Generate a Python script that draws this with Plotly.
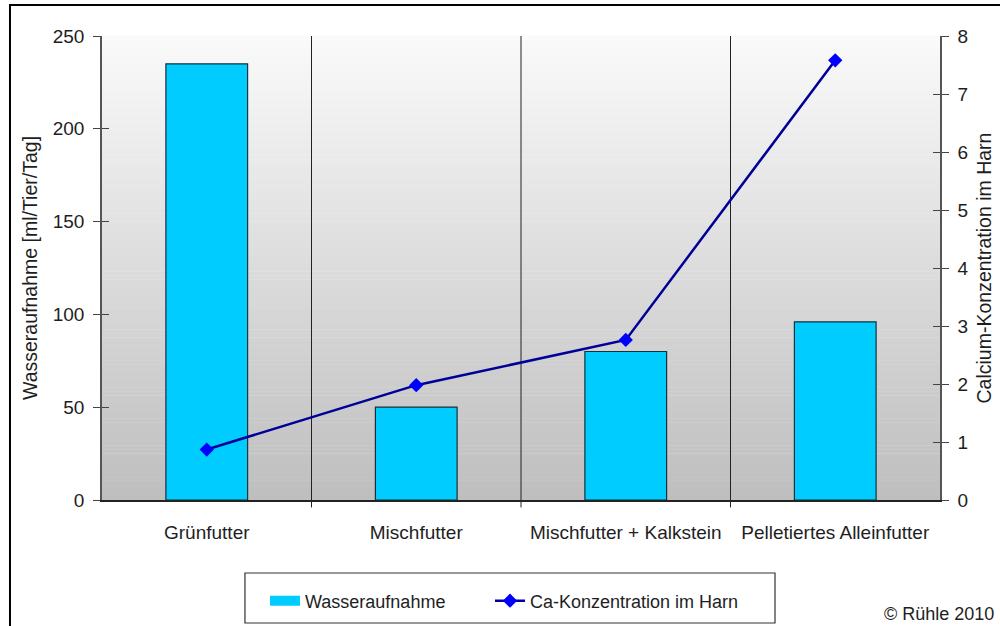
import plotly.graph_objects as go

# Futterarten und Messwerte
kategorien = ["Grünfutter", "Mischfutter", "Mischfutter + Kalkstein", "Pelletiertes Alleinfutter"]
wasseraufnahme = [235, 50, 80, 96]          # ml/Tier/Tag
ca_konzentration = [0.87, 1.98, 2.76, 7.58]  # Calcium im Harn

links_ticks = [0, 50, 100, 150, 200, 250]
rechts_ticks = [0, 1, 2, 3, 4, 5, 6, 7, 8]

FONT = "Liberation Sans, Arial, sans-serif"
TEXT = "#1e1e1e"
BAR_COLOR = "#00ccff"

fig = go.Figure()

fig.add_trace(go.Bar(
    x=kategorien, y=wasseraufnahme, name="Wasseraufnahme",
    width=0.39, marker=dict(color=BAR_COLOR, line=dict(color="#14303c", width=1.2)),
    yaxis="y", showlegend=False,
))
# Legendensymbol für die Säulen als breites Rechteck
fig.add_trace(go.Scatter(
    x=[None], y=[None], name="Wasseraufnahme", mode="lines",
    line=dict(color=BAR_COLOR, width=10), yaxis="y", legend="legend",
))
fig.add_trace(go.Scatter(
    x=kategorien, y=ca_konzentration, name="Ca-Konzentration im Harn",
    mode="lines+markers", yaxis="y2", legend="legend2",
    line=dict(color="#000099", width=2.5),
    marker=dict(symbol="diamond", size=11, color="#0000ff", line=dict(width=0)),
))

shapes = []
# Hintergrundverlauf der Zeichenfläche (hell oben, grau unten)
n = 120
for i in range(n):
    t = i / (n - 1)
    g = int(round(250 - (250 - 190) * t))
    shapes.append(dict(
        type="rect", xref="paper", yref="paper",
        x0=0, x1=1, y0=1 - (i + 1) / n, y1=1 - i / n + 0.001,
        fillcolor=f"rgb({g},{g},{g})", line=dict(width=0), layer="below",
    ))
# Trennlinien zwischen den Kategorien
for xb in [0.5, 1.5, 2.5]:
    shapes.append(dict(
        type="line", xref="x", yref="paper", x0=xb, x1=xb, y0=-0.016, y1=1,
        line=dict(color="#222222", width=1), layer="below",
    ))
# Legendenrahmen
shapes.append(dict(
    type="rect", xref="paper", yref="paper",
    x0=0.1706, x1=0.8031, y0=-0.2651, y1=-0.1573,
    line=dict(color="#333333", width=1.2), fillcolor="white", layer="below",
))
# Äußerer Rahmen
shapes.append(dict(
    type="rect", xref="paper", yref="paper",
    x0=-0.1098, x1=1.08, y0=-0.29, y1=1.0668,
    line=dict(color="#000000", width=2), fillcolor="rgba(0,0,0,0)",
))

tick_common = dict(
    showgrid=False, zeroline=False, showline=True, automargin=False,
    linecolor="#555555", linewidth=1.5, tickcolor="#444444",
)

legend_common = dict(
    orientation="h", xref="container", yref="container",
    xanchor="left", y=1 - 601 / 626, yanchor="middle",
    borderwidth=0, bgcolor="rgba(0,0,0,0)",
    font=dict(family=FONT, size=18, color=TEXT), itemwidth=30,
)

fig.update_layout(
    width=1000, height=626,
    margin=dict(l=102, r=60, t=36, b=126),
    paper_bgcolor="white", plot_bgcolor="rgba(0,0,0,0)",
    font=dict(family=FONT, size=19, color=TEXT),
    shapes=shapes,
    showlegend=True,
    legend=dict(x=265 / 1000, **legend_common),
    legend2=dict(x=490 / 1000, **legend_common),
    xaxis=dict(
        type="category", range=[-0.5, 3.5], automargin=False,
        showline=True, linecolor="#222222", linewidth=1.5,
        ticks="", showgrid=False, tickfont=dict(size=19),
        ticklabelstandoff=14,
    ),
    yaxis=dict(
        range=[0, 250], tickvals=links_ticks,
        ticks="outside", ticklen=7, ticklabelstandoff=5,
        tickfont=dict(size=19),
        title=dict(text="Wasseraufnahme [ml/Tier/Tag]", standoff=10, font=dict(size=19.5)),
        **tick_common,
    ),
    yaxis2=dict(
        range=[0, 8], tickvals=rechts_ticks, overlaying="y", side="right",
        ticks="outside", ticklen=7, ticklabelstandoff=5,
        tickfont=dict(size=19),
        title=dict(text="Calcium-Konzentration im Harn", standoff=10, font=dict(size=19.5)),
        **tick_common,
    ),
    # Innenliegende Teilstriche, damit die Striche die Achsen kreuzen
    yaxis3=dict(
        range=[0, 250], tickvals=links_ticks, overlaying="y", side="left",
        ticks="inside", ticklen=7, showticklabels=False, **tick_common,
    ),
    yaxis4=dict(
        range=[0, 8], tickvals=rechts_ticks, overlaying="y", side="right",
        ticks="inside", ticklen=7, showticklabels=False, **tick_common,
    ),
    annotations=[dict(
        text="© Rühle 2010", xref="paper", yref="paper",
        x=1.0668, y=-0.2457,
        xanchor="right", yanchor="middle", showarrow=False,
        font=dict(family=FONT, size=18, color=TEXT),
    )],
)

# Unsichtbare Spuren, damit die Zusatzachsen gezeichnet werden
fig.add_trace(go.Scatter(x=[None], y=[None], yaxis="y3", showlegend=False, hoverinfo="skip"))
fig.add_trace(go.Scatter(x=[None], y=[None], yaxis="y4", showlegend=False, hoverinfo="skip"))

fig.write_html("out.html")
